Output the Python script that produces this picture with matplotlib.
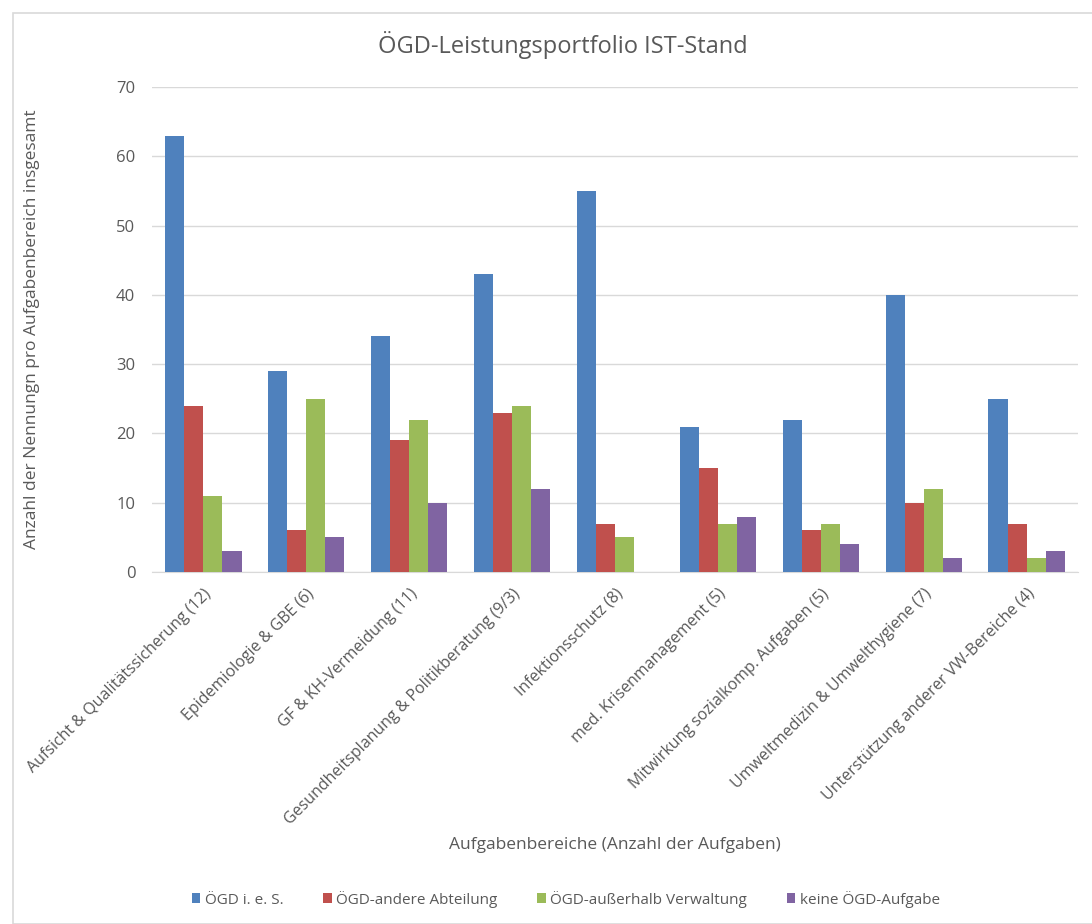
import matplotlib
matplotlib.use("Agg")
import matplotlib.pyplot as plt
import numpy as np
from matplotlib.patches import Rectangle

categories = ["Aufsicht & Qualitätssicherung (12)", "Epidemiologie & GBE (6)", "GF & KH-Vermeidung (11)",
              "Gesundheitsplanung & Politikberatung (9/3)", "Infektionsschutz (8)", "med. Krisenmanagement (5)",
              "Mitwirkung sozialkomp. Aufgaben (5)", "Umweltmedizin & Umwelthygiene (7)",
              "Unterstützung anderer VW-Bereiche (4)"]
series_names = ["ÖGD i. e. S.", "ÖGD-andere Abteilung", "ÖGD-außerhalb Verwaltung", "keine ÖGD-Aufgabe"]
oegd_ies = [63, 29, 34, 43, 55, 21, 22, 40, 25]
andere_abt = [24, 6, 19, 23, 7, 15, 6, 10, 7]
ausserhalb = [11, 25, 22, 24, 5, 7, 7, 12, 2]
keine = [3, 5, 10, 12, 0, 8, 4, 2, 3]
colors = ["#4F81BD", "#C0504D", "#9BBB59", "#8064A2"]

plt.rcParams['font.family'] = ['Open Sans', 'DejaVu Sans']
txt = "#595959"

fig = plt.figure(figsize=(10.92, 9.24), dpi=100)
fig.patches.append(Rectangle((13/1092, 0), 1, 1 - 13/924, transform=fig.transFigure,
                             fill=False, edgecolor="#D9D9D9", lw=1.2))
ax = fig.add_axes([152/1092, 1 - 572/924, (1078 - 152)/1092, (572 - 87)/924])

x = np.arange(len(categories))
w = 0.185
data = [oegd_ies, andere_abt, ausserhalb, keine]
for i, (vals, c, n) in enumerate(zip(data, colors, series_names)):
    ax.bar(x + (i - 1.5) * w, vals, w, color=c, label=n, zorder=3)

ax.set_xlim(-0.5, len(categories) - 0.5)
ax.set_ylim(0, 70)
ax.set_yticks(range(0, 71, 10))
ax.yaxis.grid(True, color="#D9D9D9", lw=1, zorder=0)
for s in ["top", "right", "left"]:
    ax.spines[s].set_visible(False)
ax.spines["bottom"].set_color("#D9D9D9")
ax.tick_params(axis="both", length=0, colors=txt)
ax.tick_params(axis="y", pad=12, labelsize=12)
ax.set_xticks(x)
ax.set_xticklabels(categories, rotation=45, ha="right", rotation_mode="anchor", fontsize=11.5)
ax.tick_params(axis="x", pad=10)

fig.text(563/1092, 1 - 45/924, "ÖGD-Leistungsportfolio IST-Stand", color=txt, fontsize=17,
         ha="center", va="center")
ax.set_ylabel("Anzahl der Nennungn pro Aufgabenbereich insgesamt", color=txt, fontsize=12.5)
ax.yaxis.set_label_coords(-(152 - 40) / 926, 0.5)
fig.text(615/1092, 1 - 845/924, "Aufgabenbereiche (Anzahl der Aufgaben)", color=txt,
         fontsize=12.5, ha="center", va="center")

leg = fig.legend(loc="center", bbox_to_anchor=(566/1092, 1 - 899/924), ncol=4, frameon=False,
                 fontsize=11, handlelength=0.55, handleheight=0.55, columnspacing=2.6, handletextpad=0.3,
                 labelcolor=txt)

fig.savefig("out.png", dpi=100)
